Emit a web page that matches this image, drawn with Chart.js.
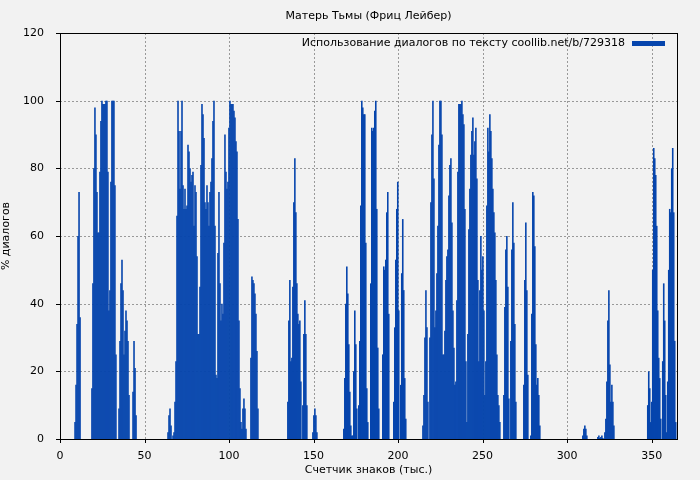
<!DOCTYPE html>
<html><head><meta charset="utf-8">
<script src="https://cdn.jsdelivr.net/npm/chart.js@4"></script>
<style>html,body{margin:0;padding:0;background:#f2f2f2}</style>
</head><body>
<canvas id="c" width="700" height="480" style="width:700px;height:480px"></canvas>
<script>
const chartTitle = "Матерь Тьмы (Фриц Лейбер)";
const seriesLabel = "Использование диалогов по тексту coollib.net/b/729318";
const xTicks = [0,50,100,150,200,250,300,350];
const yTicks = [0,20,40,60,80,100,120];
const binStep = 0.591;
// segment start positions (thousand chars) and values (% dialogue)
const segStarts = [8.9,18.9,34.9,43.2,63.9,134.8,149.6,167.9,214.7,309.3,318.2,347.7];
const segA = [5,16,34,60,73,36];
const segB = [15,46,80,98,90,73,61,61,79,94,100,99,99,99,100,100,79,38,44,76,100,100,100,75,25];
const segC = [9,29,46,53,44,25,32,38,35,29,13];
const segD = [14,29,21,7];
const segE = [2,7,9,4,0,1,2,11,23,66,100,91,74,91,100,75,68,74,68,69,87,85,80,76,78,79,63,75,73,54,31,31,45,81,99,96,89,70,68,75,70,63,73,76,83,94,100,63,19,18,55,73,46,35,40,37,58,90,79,74,76,92,100,99,99,99,97,95,88,85,65,35,15,5,3,9,12,9,3,0,0,0,0,24,48,47,46,43,37,26,9];
const segF = [11,35,47,23,24,45,70,83,67,46,37,34,35,17,0,10,31,41,31,10];
const segG = [2,7,9,7,2];
const segH = [3,18,40,51,43,28,14,4,1,1,20,38,28,9,0,10,29,69,100,98,96,96,58,15,5,0,0,46,92,91,92,97,100,68,27,9,0,0,0,25,51,50,53,67,73,37,0,0,0,0,11,33,53,68,76,38,0,16,49,65,44,18,6];
const segI = [4,13,30,44,33,11,0,30,70,90,100,77,33,38,49,63,87,100,100,90,25,25,32,47,54,56,72,81,83,64,38,27,16,17,41,79,99,99,99,100,96,93,68,23,5,31,62,74,84,91,95,84,88,92,77,47,23,44,60,50,54,38,13,23,69,92,85,96,91,83,74,67,61,47,25,13,10,5,0,0,0,13,39,56,60,45,12,0,29,56,70,58,34,11,0,0,0,0,0,0,0,16,47,64,44,19,0,0,1,37,73,72,57,28,16,18,13,4];
const segJ = [1,3,4,3,1];
const segK = [0.6,1,0.3,0.6,1,0.3,0,2,6,17,35,44,22,11,16,11,4];
const segL = [10,20,15,5,11,50,86,83,78,63,38,24,18,6,0,23,46,35,13,2,17,50,68,67,80,86,67,29,5];
const segs = [segA,segB,segC,segD,segE,segF,segG,segH,segI,segJ,segK,segL];

const points = [];
segs.forEach((s,i)=>s.forEach((v,j)=>points.push({x:+(segStarts[i]+j*binStep).toFixed(3),y:v})));

const FONT = "'DejaVu Sans', sans-serif";
const frame = {
  id:'frame',
  beforeDatasetsDraw(ch){
    const {ctx,chartArea:a,scales:{x,y}} = ch;
    ctx.save();
    ctx.strokeStyle='#999'; ctx.lineWidth=1; ctx.setLineDash([2,2]);
    xTicks.forEach(t=>{const p=Math.round(x.getPixelForValue(t))+0.5;ctx.beginPath();ctx.moveTo(p,a.top);ctx.lineTo(p,a.bottom);ctx.stroke();});
    yTicks.forEach(t=>{const p=Math.round(y.getPixelForValue(t))+0.5;ctx.beginPath();ctx.moveTo(a.left,p);ctx.lineTo(a.right,p);ctx.stroke();});
    ctx.restore();
  },
  afterDatasetsDraw(ch){
    const {ctx,chartArea:a,scales:{x,y}} = ch;
    ctx.save();
    ctx.strokeStyle='#000'; ctx.lineWidth=1;
    ctx.strokeRect(Math.round(a.left)+0.5,Math.round(a.top)+0.5,Math.round(a.right-a.left),Math.round(a.bottom-a.top));
    ctx.beginPath();
    xTicks.forEach(t=>{const p=Math.round(x.getPixelForValue(t))+0.5;ctx.moveTo(p,a.bottom);ctx.lineTo(p,a.bottom+4);});
    yTicks.forEach(t=>{const p=Math.round(y.getPixelForValue(t))+0.5;ctx.moveTo(a.left,p);ctx.lineTo(a.left-4,p);});
    ctx.stroke();
    ctx.fillStyle='#000'; ctx.font='11px '+FONT;
    ctx.textAlign='center'; ctx.textBaseline='middle';
    ctx.fillText(chartTitle,(a.left+a.right)/2,16);
    ctx.textAlign='right';
    ctx.fillText(seriesLabel,625,43);
    ctx.fillStyle='#0645ad';
    ctx.fillRect(632,41,33,5);
    ctx.restore();
  }
};

new Chart(document.getElementById('c'),{
  type:'bar',
  data:{datasets:[{label:seriesLabel,data:points,backgroundColor:'#0645ad',borderColor:'#0645ad',borderWidth:0,barPercentage:1.6,categoryPercentage:1,grouped:false}]},
  options:{
    responsive:false,animation:false,
    layout:{padding:{top:33,right:23,left:0,bottom:0}},
    plugins:{legend:{display:false},title:{display:false},tooltip:{enabled:false}},
    scales:{
      x:{type:'linear',min:0,max:365,offset:false,
        afterFit(s){s.height=41;},
        afterBuildTicks(s){s.ticks=xTicks.map(v=>({value:v}));},
        grid:{display:false,offset:false},border:{display:false},
        ticks:{color:'#000',font:{family:FONT,size:11},padding:3,maxRotation:0},
        title:{display:true,text:'Счетчик знаков (тыс.)',color:'#000',font:{family:FONT,size:11},padding:{top:0,bottom:3}}},
      y:{min:0,max:120,
        afterFit(s){s.width=60;},
        afterBuildTicks(s){s.ticks=yTicks.map(v=>({value:v}));},
        grid:{display:false},border:{display:false},
        ticks:{color:'#000',font:{family:FONT,size:11},padding:8},
        title:{display:true,text:'% диалогов',color:'#000',font:{family:FONT,size:11},padding:{top:0,bottom:4}}}
    }
  },
  plugins:[frame]
});
</script>
</body></html>
